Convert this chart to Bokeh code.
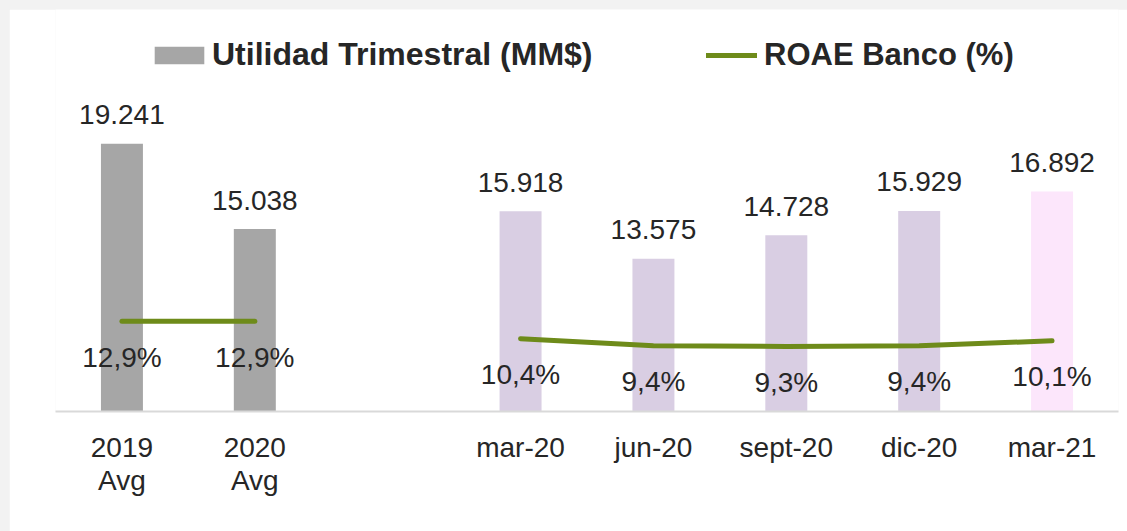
from bokeh.plotting import figure
from bokeh.models import (ColumnDataSource, FactorRange, Range1d,
                          Legend, LegendItem, GlobalInlineStyleSheet)
from bokeh.core.properties import value
from bokeh.embed import file_html
from bokeh.resources import INLINE

# ---- data ----
categories = ["2019\nAvg", "2020\nAvg", "mar-20", "jun-20", "sept-20", "dic-20", "mar-21"]
gap_factor = " "
utilidad = [19241, 15038, 15918, 13575, 14728, 15929, 16892]
roae = [12.9, 12.9, 10.4, 9.4, 9.3, 9.4, 10.1]
bar_colors = ["#A6A6A6", "#A6A6A6", "#D9CEE3", "#D9CEE3", "#D9CEE3", "#D9CEE3", "#FCE6FB"]

factors = categories[:2] + [gap_factor] + categories[2:]

util_labels = [f"{v:,}".replace(",", ".") for v in utilidad]
roae_labels = [f"{v:.1f}%".replace(".", ",") for v in roae]

FONT = "Liberation Sans"
TXT = "#262626"
GREEN = "#6E8B1A"

p = figure(x_range=FactorRange(factors=factors, range_padding=0),
           y_range=Range1d(6050, 25853),
           frame_width=1063, frame_height=402,
           min_border_left=46, min_border_right=9, min_border_top=0, min_border_bottom=120,
           x_axis_location="below", y_axis_location=None,
           output_backend="svg", toolbar_location=None)
p.extra_y_ranges = {"roae": Range1d(0, 57.43)}

p.outline_line_color = None
p.xgrid.visible = False
p.ygrid.visible = False
p.background_fill_color = "white"
p.border_fill_color = "white"

src = ColumnDataSource(dict(x=categories, util=utilidad, color=bar_colors,
                            ulab=util_labels, roae=roae, rlab=roae_labels))

bars = p.vbar(x="x", top="util", bottom=0, width=0.316, fill_color="color",
              line_color=None, source=src)

p.text(x="x", y="util", text="ulab", source=src, y_offset=-29,
       text_align="center", text_baseline="middle",
       text_font=value(FONT), text_font_size=value("28px"), text_color=TXT)

src_a = ColumnDataSource(dict(x=categories[:2], y=roae[:2]))
src_b = ColumnDataSource(dict(x=categories[2:], y=roae[2:]))
l1 = p.line(x="x", y="y", source=src_a, y_range_name="roae", line_color=GREEN,
            line_width=5, line_cap="round", line_join="round")
l2 = p.line(x="x", y="y", source=src_b, y_range_name="roae", line_color=GREEN,
            line_width=5, line_cap="round", line_join="round")

p.text(x="x", y="roae", text="rlab", source=src, y_range_name="roae", y_offset=36,
       text_align="center", text_baseline="middle",
       text_font=value(FONT), text_font_size=value("28px"), text_color=TXT)

ax = p.xaxis[0]
ax.axis_line_color = "#D9D9D9"
ax.axis_line_width = 2
ax.major_tick_line_color = None
ax.minor_tick_line_color = None
ax.major_label_text_font = FONT
ax.major_label_text_font_size = "28px"
ax.major_label_text_color = TXT
ax.major_label_text_line_height = 1.08
ax.major_label_standoff = 14

common = dict(orientation="horizontal", padding=0, margin=0, border_line_color=None,
              background_fill_alpha=0, label_text_font=FONT, label_text_font_style="bold",
              label_text_color=TXT, glyph_height=22, label_height=22)
leg1 = Legend(items=[LegendItem(label="Utilidad Trimestral (MM$)", renderers=[bars], index=0)],
              location=(93, 338), glyph_width=62, label_standoff=2,
              label_text_font_size="32px", **common)
leg2 = Legend(items=[LegendItem(label="ROAE Banco (%)", renderers=[l1, l2])],
              location=(651, 338), glyph_width=51, label_standoff=7,
              label_text_font_size="31px", **common)
p.add_layout(leg1)
p.add_layout(leg2)

p.stylesheets = [GlobalInlineStyleSheet(
    css="html, body{background-color:#F2F2F2 !important;} "
        "body{margin:9px 0 0 9px !important; height:auto !important;}")]

open("out.html", "w").write(file_html(p, INLINE))
